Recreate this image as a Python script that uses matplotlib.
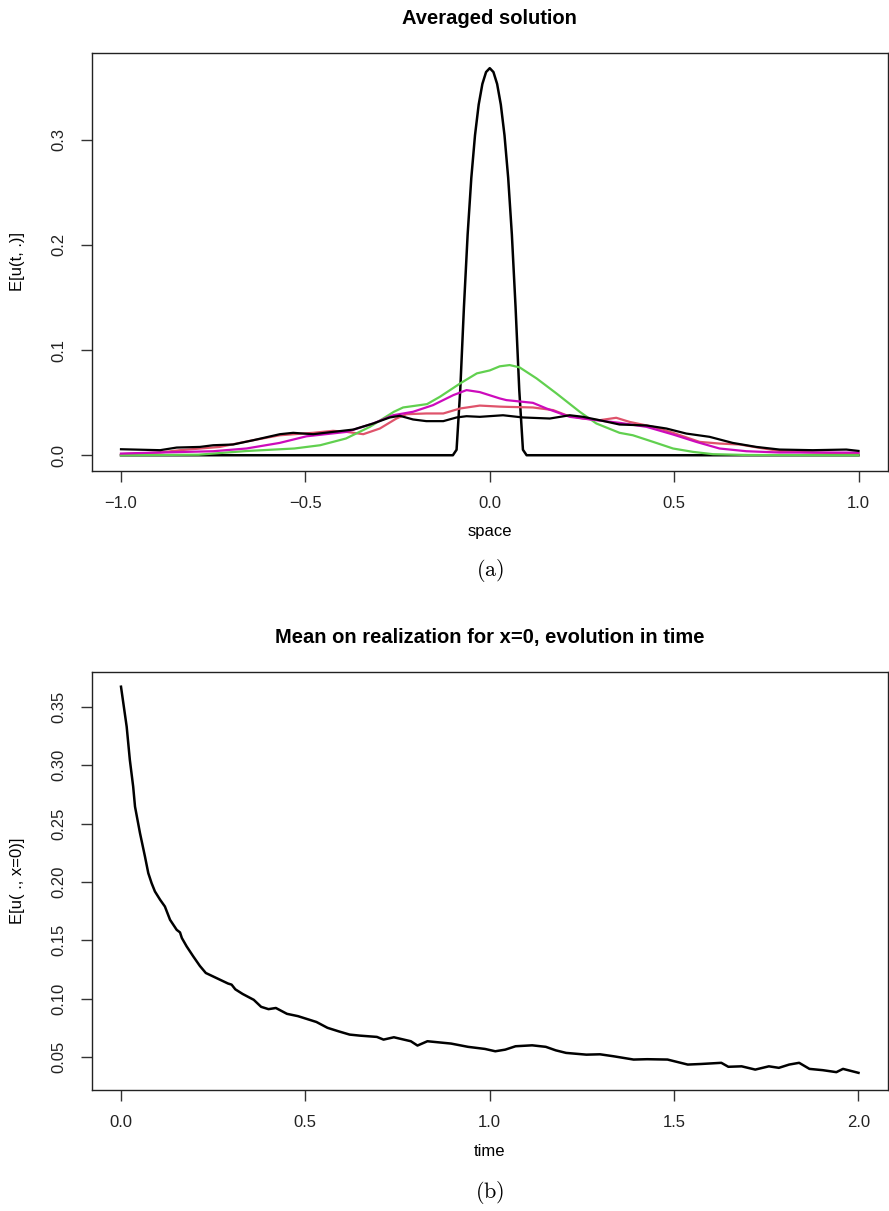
import matplotlib
matplotlib.use('Agg')
import matplotlib.pyplot as plt

plt.rcParams['font.family'] = ['Liberation Sans', 'DejaVu Sans']
plt.rcParams['mathtext.fontset'] = 'cm'

# ---- panel (a): averaged solution in space ----
space_init = [-1.0, -0.1, -0.09, -0.08, -0.07, -0.06, -0.05, -0.04, -0.03, -0.02, -0.01, 0.0,
              0.01, 0.02, 0.03, 0.04, 0.05, 0.06, 0.07, 0.08, 0.09, 0.1, 1.0]
u_init = [0.0, 0.0, 0.0052, 0.0622, 0.1408, 0.2096, 0.2636, 0.3041, 0.3333, 0.3529, 0.3642, 0.3679,
          0.3642, 0.3529, 0.3333, 0.3041, 0.2636, 0.2096, 0.1408, 0.0622, 0.0052, 0.0, 0.0]

space_green = [-1.0, -0.79, -0.66, -0.53, -0.46, -0.39, -0.325, -0.26, -0.235, -0.17, -0.135, -0.08,
               -0.035, 0.0, 0.027, 0.054, 0.081, 0.127, 0.181, 0.244, 0.289, 0.352, 0.388, 0.443,
               0.497, 0.551, 0.605, 0.7, 1.0]
u_green = [0.0, 0.0005, 0.004, 0.0064, 0.0095, 0.0159, 0.027, 0.0413, 0.0454, 0.0486, 0.0556, 0.0683,
           0.0778, 0.0806, 0.0845, 0.0857, 0.0835, 0.073, 0.0587, 0.0413, 0.0302, 0.0213, 0.019, 0.0127,
           0.0064, 0.0032, 0.001, 0.0002, 0.0]

space_magenta = [-1.0, -0.894, -0.75, -0.66, -0.57, -0.497, -0.388, -0.316, -0.262, -0.208, -0.154,
                 -0.099, -0.063, -0.027, 0.0, 0.027, 0.045, 0.117, 0.154, 0.217, 0.289, 0.352, 0.425,
                 0.497, 0.56, 0.623, 0.696, 0.786, 1.0]
u_magenta = [0.0016, 0.0026, 0.0038, 0.0064, 0.0117, 0.018, 0.0222, 0.0302, 0.038, 0.0413, 0.0476,
             0.0571, 0.0619, 0.06, 0.057, 0.054, 0.0524, 0.0498, 0.0444, 0.0365, 0.0333, 0.0308, 0.027,
             0.0197, 0.0127, 0.0064, 0.0038, 0.0026, 0.0025]

space_red = [-1.0, -0.894, -0.84, -0.732, -0.641, -0.569, -0.479, -0.425, -0.388, -0.343, -0.298,
             -0.253, -0.226, -0.172, -0.126, -0.081, -0.027, 0.027, 0.045, 0.117, 0.172, 0.208, 0.253,
             0.298, 0.343, 0.379, 0.443, 0.497, 0.569, 0.623, 0.678, 0.732, 0.786, 0.876, 1.0]
u_red = [0.001, 0.0026, 0.0048, 0.0079, 0.0143, 0.019, 0.0213, 0.0232, 0.0222, 0.02, 0.0254,
         0.0349, 0.039, 0.0397, 0.0397, 0.0444, 0.0472, 0.0462, 0.046, 0.0454, 0.0429, 0.038, 0.0349,
         0.0333, 0.0356, 0.0317, 0.027, 0.0213, 0.0127, 0.0111, 0.0102, 0.007, 0.0041, 0.0026, 0.0016]

space_black = [-1.0, -0.894, -0.849, -0.786, -0.75, -0.696, -0.641, -0.569, -0.533, -0.479, -0.425,
               -0.37, -0.316, -0.271, -0.244, -0.208, -0.172, -0.126, -0.09, -0.063, -0.027, 0.036,
               0.09, 0.163, 0.217, 0.253, 0.298, 0.352, 0.425, 0.479, 0.533, 0.596, 0.659, 0.723,
               0.786, 0.876, 0.967, 1.0]
u_black = [0.0057, 0.0048, 0.0073, 0.0079, 0.0095, 0.0102, 0.0143, 0.02, 0.0213, 0.02, 0.0222,
           0.0244, 0.0302, 0.0359, 0.0375, 0.034, 0.0324, 0.0324, 0.0359, 0.0371, 0.0365, 0.038,
           0.0359, 0.0349, 0.038, 0.0365, 0.0333, 0.0292, 0.0283, 0.0254, 0.0206, 0.0175, 0.0117,
           0.0079, 0.0054, 0.0048, 0.0054, 0.0041]

xticks_a = [-1.0, -0.5, 0.0, 0.5, 1.0]
xticklabels_a = ['\u22121.0', '\u22120.5', '0.0', '0.5', '1.0']
yticks_a = [0.0, 0.1, 0.2, 0.3]
yticklabels_a = ['0.0', '0.1', '0.2', '0.3']

# ---- panel (b): value at x=0 over time ----
time = [0.0, 0.0154, 0.024, 0.033, 0.038, 0.0515, 0.065, 0.074, 0.083, 0.092, 0.106, 0.119, 0.133,
        0.151, 0.16, 0.165, 0.178, 0.196, 0.214, 0.23, 0.25, 0.27, 0.29, 0.3, 0.31, 0.33, 0.36, 0.38,
        0.4, 0.42, 0.45, 0.48, 0.5, 0.53, 0.56, 0.59, 0.62, 0.648, 0.694, 0.712, 0.74, 0.786, 0.804,
        0.831, 0.895, 0.941, 0.987, 1.015, 1.042, 1.07, 1.115, 1.152, 1.179, 1.207, 1.262, 1.299,
        1.336, 1.39, 1.427, 1.482, 1.537, 1.573, 1.628, 1.647, 1.683, 1.72, 1.757, 1.784, 1.812,
        1.839, 1.867, 1.903, 1.94, 1.958, 2.0]
u_center = [0.3674, 0.3331, 0.3046, 0.2818, 0.2646, 0.2419, 0.2218, 0.2076, 0.199, 0.1919, 0.1848,
            0.179, 0.1676, 0.159, 0.1568, 0.152, 0.1448, 0.1362, 0.128, 0.122, 0.119, 0.116, 0.113,
            0.112, 0.108, 0.104, 0.099, 0.093, 0.091, 0.092, 0.087, 0.085, 0.083, 0.08, 0.075, 0.072,
            0.0692, 0.0683, 0.0672, 0.0649, 0.0669, 0.0635, 0.0598, 0.0635, 0.0615, 0.0587, 0.0569,
            0.0549, 0.0563, 0.0592, 0.06, 0.0587, 0.0557, 0.0535, 0.052, 0.0523, 0.0506, 0.0478,
            0.0481, 0.0478, 0.0435, 0.044, 0.045, 0.0416, 0.042, 0.0392, 0.042, 0.0407, 0.0435, 0.045,
            0.0398, 0.0387, 0.037, 0.0398, 0.0364]

xticks_b = [0.0, 0.5, 1.0, 1.5, 2.0]
xticklabels_b = ['0.0', '0.5', '1.0', '1.5', '2.0']
yticks_b = [0.05, 0.10, 0.15, 0.20, 0.25, 0.30, 0.35]
yticklabels_b = ['0.05', '0.10', '0.15', '0.20', '0.25', '0.30', '0.35']

W, H = 889, 1211
fig = plt.figure(figsize=(W / 100, H / 100), dpi=100)


def style_axes(ax):
	for s in ax.spines.values():
		s.set_linewidth(1.0)
		s.set_color('#222222')
	ax.tick_params(direction='out', length=8, width=1.0, color='#333333', labelsize=12,
				   labelcolor='#222222', pad=10)
	ax.tick_params(axis='y', labelrotation=90)
	for lab in ax.get_yticklabels():
		lab.set_verticalalignment('center')


ax1 = fig.add_axes([91.5 / W, 1 - 470.7 / H, (888 - 91.5) / W, (470.7 - 52.7) / H])
ax1.plot(space_init, u_init, color='black', lw=1.8)
ax1.plot(space_red, u_red, color='#DF536B', lw=1.6)
ax1.plot(space_green, u_green, color='#61D04F', lw=1.6)
ax1.plot(space_magenta, u_magenta, color='#CD0BBC', lw=1.6)
ax1.plot(space_black, u_black, color='black', lw=1.6)
ax1.set_xlim(-1.08, 1.08)
ax1.set_ylim(-0.0147, 0.3826)
ax1.set_xticks(xticks_a)
ax1.set_xticklabels(xticklabels_a)
ax1.set_yticks(yticks_a)
ax1.set_yticklabels(yticklabels_a)
style_axes(ax1)
ax1.set_title('Averaged solution', fontsize=14.5, fontweight='bold', pad=21)
ax1.set_xlabel('space', fontsize=12)
ax1.xaxis.set_label_coords(0.5, -0.128)
ax1.set_ylabel('E[u(t, .)]', fontsize=12)
ax1.yaxis.set_label_coords(-0.083, 0.5)

ax2 = fig.add_axes([91.5 / W, 1 - 1090 / H, (888 - 91.5) / W, (1090 - 672) / H])
ax2.plot(time, u_center, color='black', lw=1.8)
ax2.set_xlim(-0.08, 2.08)
ax2.set_ylim(0.0217, 0.380)
ax2.set_xticks(xticks_b)
ax2.set_xticklabels(xticklabels_b)
ax2.set_yticks(yticks_b)
ax2.set_yticklabels(yticklabels_b)
style_axes(ax2)
ax2.set_title('Mean on realization for x=0, evolution in time', fontsize=14.5, fontweight='bold', pad=21)
ax2.set_xlabel('time', fontsize=12)
ax2.xaxis.set_label_coords(0.5, -0.128)
ax2.set_ylabel('E[u( ., x=0)]', fontsize=12)
ax2.yaxis.set_label_coords(-0.083, 0.5)

fig.text(490 / W, 1 - 570.5 / H, r'$\mathrm{(a)}$', fontsize=16, ha='center', va='center')
fig.text(490 / W, 1 - 1192 / H, r'$\mathrm{(b)}$', fontsize=16, ha='center', va='center')

fig.savefig('out.png', dpi=100)
